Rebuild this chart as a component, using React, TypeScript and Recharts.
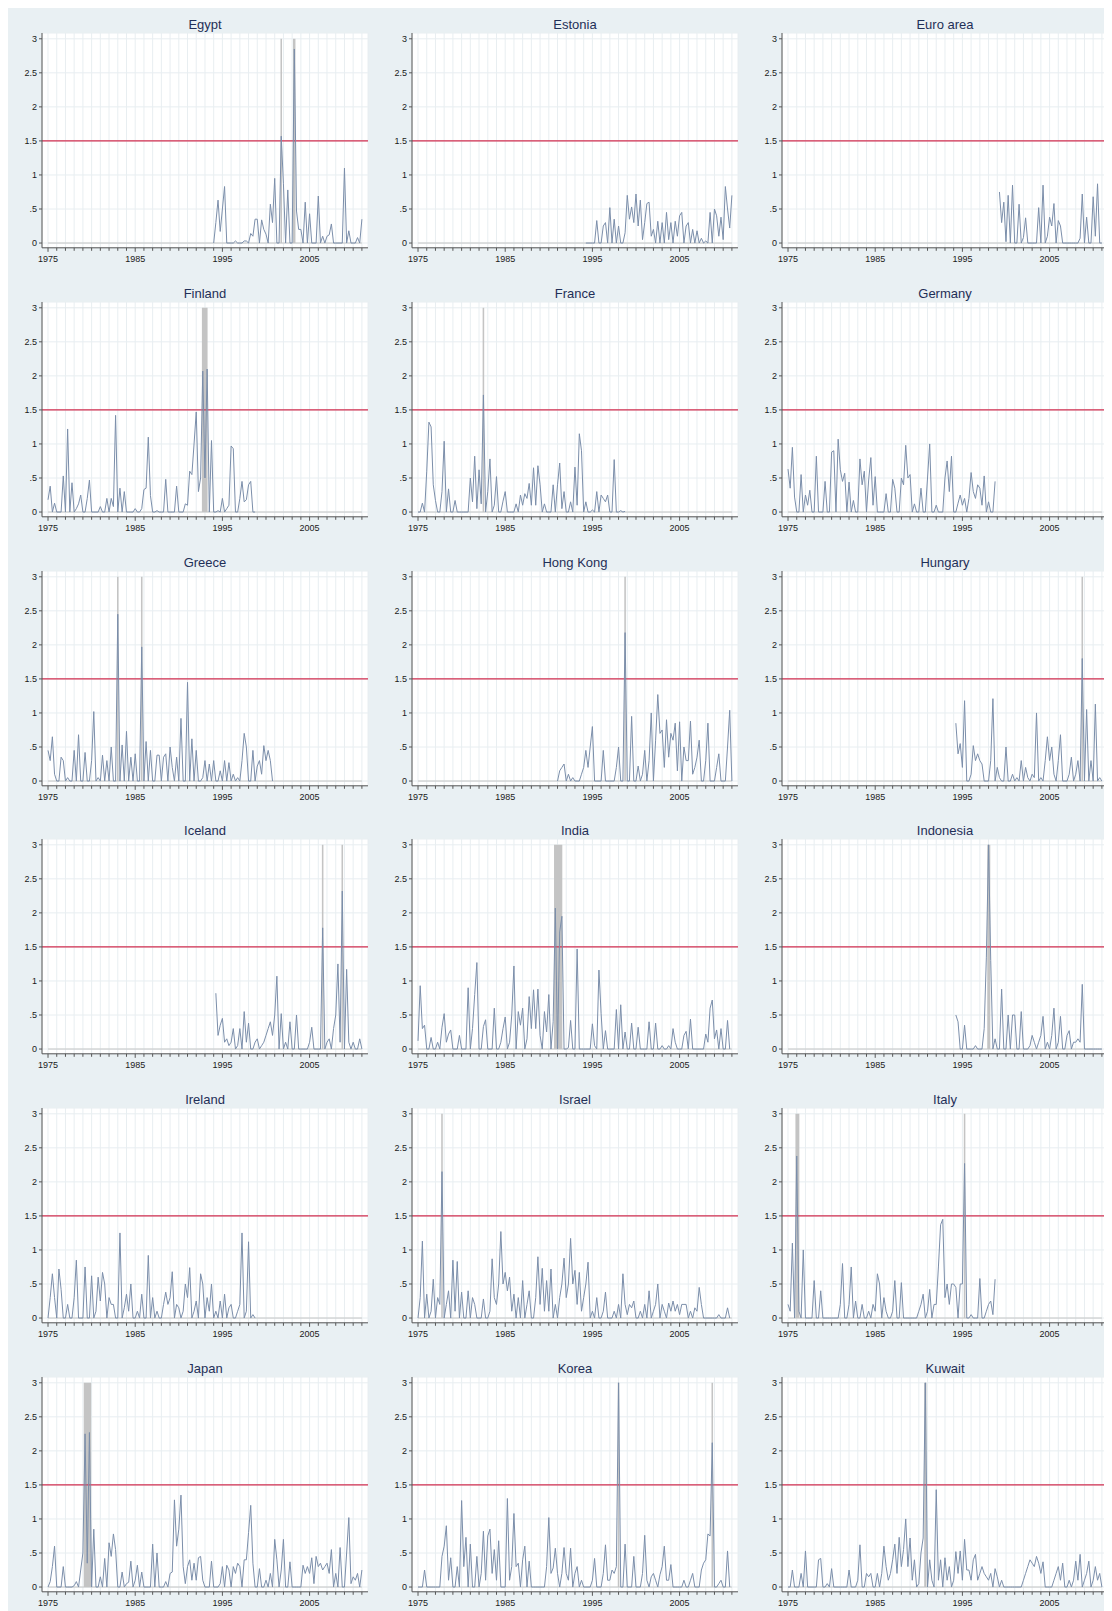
import React from 'react';
import {
  ComposedChart,
  Line,
  XAxis,
  YAxis,
  CartesianGrid,
  ReferenceLine,
  ReferenceArea,
} from 'recharts';

// quarterly index values, each series starts at its own year
const egyptStart = 1994;
const egypt = [0, .3, .63, .17, .5, .83, 0, 0, 0, 0, .03, 0, 0, 0, .03, .03, 0, .14, .1, .35, .35, 0, .34, .2, .13, 0, .57, .3, .95, 0, 0, 1.57, .87, 0, .78, 0, 0, 2.85, .47, .2, .2, 0, .6, 0, .43, 0, 0, 0, .69, 0, .1, 0, .1, .12, .28, 0, 0, 0, 0, 0, 1.1, 0, .18, 0, 0, 0, .08, 0, .35];
const egyptCrises = [[2001.66, 2001.84], [2003.1, 2003.38]];

const estoniaStart = 1994.25;
const estonia = [0, 0, 0, 0, 0, .33, 0, 0, .25, .3, 0, .52, 0, .35, 0, .25, 0, 0, .15, .7, .35, .53, .3, .72, .25, .63, .05, .3, .58, .6, .1, .2, 0, .32, 0, .3, 0, .45, .05, .3, 0, .32, .1, .4, .45, 0, .25, .3, 0, .2, 0, .18, 0, .07, 0, .03, 0, .45, 0, .5, .4, .1, .38, .05, .83, .5, .22, .7];
const estoniaCrises: number[][] = [];

const euroStart = 1999.25;
const euro = [.75, .3, .6, .02, .7, 0, .85, 0, 0, .57, 0, .08, .37, 0, 0, 0, 0, 0, .52, 0, .85, 0, .1, .38, .25, .58, 0, .33, .25, 0, 0, 0, 0, 0, 0, 0, 0, .07, .72, 0, .38, 0, 0, .68, .1, .87, 0, 0];
const euroCrises: number[][] = [];

const finlandStart = 1975;
const finland = [.18, .38, 0, .13, 0, 0, 0, .53, 0, 1.22, 0, .43, 0, .05, .12, .25, 0, 0, .2, .47, 0, 0, 0, 0, .08, 0, 0, .2, 0, .2, .08, 1.42, 0, .35, 0, .3, 0, 0, 0, 0, .05, 0, 0, .05, .33, .35, 1.1, .24, 0, 0, .02, 0, 0, 0, .48, 0, 0, 0, 0, .38, 0, 0, 0, .12, .1, .6, .55, 1.0, 1.47, .3, .5, 2.07, .5, 2.1, 0, 1.05, 0, 0, .02, 0, .2, 0, .05, .1, .97, .93, 0, 0, .2, .45, .15, .18, .4, .45, 0, 0];
const finlandCrises = [[1992.65, 1993.3]];

const franceStart = 1975;
const france = [0, 0, .13, 0, .6, 1.32, 1.25, .4, .17, 0, 0, .3, 1.04, 0, .34, 0, 0, .17, 0, 0, 0, 0, 0, 0, .5, .15, .82, .05, .62, .12, 1.72, 0, .3, .78, 0, .1, .52, 0, 0, .16, .3, 0, 0, 0, 0, .12, 0, .25, .1, .27, .2, .42, .1, .65, .1, .68, .4, 0, .12, 0, 0, 0, .4, 0, .4, .72, .05, .3, 0, 0, .15, 0, .66, .1, 1.15, .9, 0, .15, 0, 0, .03, 0, .3, 0, .25, .2, .15, .25, 0, 0, .77, 0, 0, .02, 0, .01];
const franceCrises = [[1982.41, 1982.59]];

const germanyStart = 1975;
const germany = [.63, .35, .95, .22, 0, 0, .55, 0, .25, .1, .32, 0, 0, .82, 0, 0, 0, .45, 0, 0, .88, .9, 0, 1.07, .62, .45, .57, 0, .44, 0, .17, 0, 0, .78, .4, .6, 0, .47, .8, .1, .52, 0, 0, 0, 0, .27, 0, 0, .48, .35, 0, 0, .5, .4, .98, .5, .55, 0, .12, 0, 0, .35, 0, 0, .5, 1.0, 0, 0, .1, 0, 0, 0, .5, .75, .3, .82, 0, 0, .13, .25, .1, .2, 0, .2, .58, .3, .2, .4, .35, .1, .53, 0, .15, 0, 0, .45];
const germanyCrises: number[][] = [];

const greeceStart = 1975;
const greece = [.45, .3, .65, .1, 0, 0, .35, .3, 0, .05, 0, 0, .45, 0, .68, 0, 0, .42, 0, 0, .3, 1.02, 0, .05, 0, .38, 0, .3, 0, .5, 0, 0, 2.45, 0, .53, 0, .73, 0, .35, 0, .4, 0, 0, 1.97, 0, .58, 0, .45, 0, 0, .38, .38, 0, .35, .4, 0, .5, .2, 0, .35, 0, .92, 0, 0, 1.45, 0, .62, 0, .45, 0, 0, .05, .3, 0, .25, 0, .3, 0, 0, .15, 0, .3, 0, .27, 0, .1, 0, .05, 0, .3, .7, .5, 0, 0, .45, 0, .22, .3, .1, .52, .3, .45, .3, 0];
const greeceCrises = [[1982.91, 1983.09], [1985.66, 1985.84]];

const hongKongStart = 1991;
const hongKong = [0, .15, .2, .25, 0, .1, 0, .05, 0, 0, 0, .1, .2, .45, .2, .5, .8, 0, 0, 0, 0, .45, 0, 0, 0, 0, 0, .2, .5, 0, 0, 2.18, 0, 0, .95, 0, 0, .22, 0, .1, .45, 0, .3, 1.0, 0, .6, 1.27, .7, .75, .2, .9, .35, .7, .6, .85, .15, .87, 0, .5, .3, .3, .88, .1, .2, .35, .6, 0, 0, .3, .85, 0, 0, 0, .2, .4, 0, 0, 0, .5, 1.04, 0];
const hongKongCrises = [[1998.66, 1998.84]];

const hungaryStart = 1994.25;
const hungary = [.85, .4, .55, .2, 1.18, 0, 0, .1, .52, .3, .4, .3, .25, 0, 0, 0, .3, 1.21, 0, .2, .05, 0, 0, .5, 0, 0, .1, 0, .05, 0, .3, 0, .2, .05, 0, .1, .05, 1.0, 0, .05, 0, .3, .65, .3, .5, .1, 0, .3, .68, 0, 0, 0, .1, .35, 0, .1, .3, 0, 1.8, 0, 1.05, 0, .3, 0, 1.13, 0, .05, 0];
const hungaryCrises = [[2008.66, 2008.84]];

const icelandStart = 1994.25;
const iceland = [.82, .2, .35, .45, .1, .15, .05, .1, .3, 0, .05, .3, 0, .55, .1, .38, 0, 0, .1, .15, 0, .05, .1, .2, .3, .4, .2, .5, 1.07, 0, .52, 0, .1, 0, .4, 0, 0, .5, 0, 0, 0, 0, 0, .1, .32, 0, 0, 0, 0, 1.78, 0, .1, .15, 0, .3, .5, 1.25, .1, 2.32, 0, 1.17, .1, 0, .1, 0, 0, .15, 0];
const icelandCrises = [[2006.41, 2006.59], [2008.66, 2008.84]];

const indiaStart = 1975;
const india = [.12, .93, .3, .35, 0, 0, .17, 0, 0, .1, 0, .32, .52, .1, .22, .28, 0, 0, 0, .2, 0, 0, 0, .9, 0, .3, .8, 1.27, 0, 0, .33, .43, 0, 0, 0, .6, 0, 0, .1, .3, .47, 0, .1, .5, 1.22, 0, .55, .35, .6, 0, .15, .77, .3, .87, .3, .88, .2, 0, .55, .25, .8, 0, .4, 2.07, 0, 1.72, 1.95, 0, 0, .02, .42, 0, 0, 1.47, 0, 0, 0, 0, 0, 0, .37, .05, 0, 1.16, .52, 0, .27, 0, 0, 0, 0, .58, 0, .65, 0, .25, 0, 0, .38, 0, 0, .32, 0, 0, 0, 0, .4, 0, 0, .38, 0, 0, .05, 0, 0, .05, 0, .3, .1, 0, 0, 0, .2, .26, 0, .44, 0, 0, 0, 0, 0, 0, .22, .1, .6, .72, .15, .28, 0, .3, 0, 0, .42, 0];
const indiaCrises = [[1990.6, 1991.55]];

const indonesiaStart = 1994.25;
const indonesia = [.5, .4, 0, 0, .35, 0, 0, 0, 0, .05, 0, 0, 0, .3, 1.35, 3.0, 1.3, 0, .15, 0, 0, .88, 0, 0, .5, 0, .5, .5, 0, 0, .55, 0, 0, 0, .05, .2, .1, 0, .1, .2, .48, 0, .1, 0, .2, .6, 0, .1, .48, 0, 0, .2, .27, 0, .1, .1, .15, .1, .95, 0, 0, 0, 0, 0, 0, 0, 0, 0];
const indonesiaCrises = [[1997.85, 1998.2]];

const irelandStart = 1975;
const ireland = [0, .3, .65, .3, 0, .72, .42, 0, 0, .2, 0, 0, .3, .85, 0, 0, 0, .75, 0, 0, .62, 0, .1, .6, .25, .67, .5, 0, .3, .2, .2, 0, 0, 1.25, 0, .15, .35, .1, .5, 0, 0, .1, 0, .35, 0, 0, .92, 0, .3, 0, .1, 0, 0, .2, .38, .2, .3, .68, 0, .2, .15, 0, .1, .5, .3, .74, 0, .1, .25, 0, .65, .5, 0, .3, .1, .5, 0, .1, 0, .25, 0, .35, 0, .15, .2, 0, 0, .1, .2, 1.25, 0, .1, 1.12, 0, .05, 0];
const irelandCrises: number[][] = [];

const israelStart = 1975;
const israel = [0, .3, 1.13, 0, .35, 0, .1, .57, 0, .3, .2, 2.15, 0, .2, .4, 0, .85, .1, .83, 0, .38, 0, 0, .4, 0, .3, .2, 0, 0, 0, .28, 0, 0, .1, .87, .3, .2, .5, 1.27, .5, .67, .4, .6, .1, .35, 0, .3, 0, .55, 0, .2, .4, 0, 0, .3, .9, .2, .73, .1, .55, .1, .72, 0, .2, 0, .3, .5, .88, .3, .5, 1.17, .5, .7, .2, .67, .1, .3, .5, .82, 0, .1, 0, .3, 0, 0, .1, .38, 0, 0, 0, .1, 0, .2, 0, .65, .2, .05, .2, .15, .25, 0, 0, .1, 0, .2, 0, .4, 0, .1, .2, .5, 0, .2, .1, 0, .22, .1, .25, .1, .2, .05, .2, .2, .2, 0, .1, 0, .15, .1, .45, .2, 0, 0, 0, 0, 0, 0, 0, .05, 0, 0, 0, .15, 0];
const israelCrises = [[1977.66, 1977.84]];

const italyStart = 1975;
const italy = [.2, .1, 1.1, 0, 2.38, .1, 0, 1.0, 0, 0, 0, 0, .55, 0, 0, .4, 0, 0, 0, 0, 0, 0, 0, 0, .2, .8, 0, 0, .2, .75, 0, .25, 0, 0, .2, 0, 0, .1, 0, .2, .1, .65, .5, 0, .3, .1, 0, 0, .1, .55, 0, 0, .52, 0, 0, 0, 0, 0, 0, 0, .1, .2, .35, 0, .1, .42, 0, .2, .2, .75, 1.37, 1.45, .3, .5, .2, .5, .5, .45, 0, .5, .5, 2.27, 0, 0, .05, 0, 0, 0, .58, 0, 0, .1, .2, .25, .05, .57];
const italyCrises = [[1975.85, 1976.3], [1995.16, 1995.34]];

const japanStart = 1975;
const japan = [0, .08, .3, .6, 0, 0, 0, .3, 0, 0, 0, 0, .02, .08, 0, .25, .5, 2.25, .35, 2.27, 0, .85, 0, 0, .15, 0, .42, 0, .65, .45, .78, .55, 0, 0, .22, 0, .05, .07, .38, 0, .1, .32, 0, .22, 0, 0, 0, 0, .63, 0, .5, 0, 0, 0, .08, 0, .2, .22, 1.28, .6, .85, 1.35, .3, .05, .3, .4, .1, .35, .1, .43, .45, .1, 0, 0, 0, .38, 0, 0, 0, .05, .3, 0, .32, .25, 0, .3, .2, .35, .3, 0, .4, .4, .8, 1.2, .35, 0, 0, .27, 0, 0, .1, 0, .2, 0, .7, .4, 0, .25, .7, 0, 0, .37, 0, 0, 0, 0, 0, .32, .2, .3, .2, .43, .05, .45, .3, .35, .25, .3, .35, .2, .55, 0, .2, 0, .58, 0, 0, .5, 1.02, .05, .15, .1, .2, 0, .25];
const japanCrises = [[1979.1, 1979.95]];

const koreaStart = 1975;
const korea = [0, 0, 0, .25, 0, 0, 0, 0, 0, 0, 0, .45, .6, .9, .1, .43, 0, 0, .3, 0, 1.27, .3, .73, 0, .63, 0, 0, .45, 0, .2, .82, .1, .75, .85, .2, .55, .1, .68, 0, 0, 0, 1.3, .1, .3, 1.08, .3, .35, 0, .4, .6, 0, .38, 0, 0, 0, 0, 0, 0, 0, .3, 1.02, .2, .28, .57, .2, 0, .2, .58, .2, .1, .57, 0, .2, .3, 0, .1, 0, 0, 0, 0, .1, .42, 0, 0, 0, .2, .62, .1, .1, .25, .2, .3, 3.0, 0, 0, .63, 0, 0, 0, .45, 0, 0, 0, .2, .76, .1, 0, .15, .2, .1, 0, .18, .3, .6, .1, .1, .33, 0, 0, 0, 0, 0, .1, 0, 0, .1, .2, 0, 0, 0, .25, .35, .4, .78, .75, 2.12, 0, 0, .05, .1, 0, 0, .53, 0];
const koreaCrises = [[1997.91, 1998.09], [2008.66, 2008.84]];

const kuwaitStart = 1975;
const kuwait = [0, 0, .25, 0, 0, 0, .2, 0, .53, 0, 0, 0, 0, 0, .4, .42, 0, 0, .05, 0, .27, 0, 0, 0, 0, 0, 0, 0, .25, 0, 0, 0, .1, .62, 0, 0, .2, .15, .2, 0, 0, .2, 0, .2, .6, .3, .1, .2, .4, .63, .2, .73, .3, .55, 1.0, .3, .72, .1, .4, 0, .05, .5, .72, 3.0, 0, .4, .1, 0, 1.43, .1, .4, 0, .43, .1, .3, 0, .1, .52, .2, .53, .1, .7, .25, .25, .1, .4, .48, .1, .2, .3, .2, .15, .1, .2, 0, .27, .15, 0, .1, 0, 0, 0, 0, 0, 0, 0, 0, 0, .1, .2, .3, .4, .35, .3, .45, .35, .2, .37, 0, 0, 0, 0, .1, .2, .3, .1, .35, 0, 0, .1, 0, .1, .38, .1, .48, 0, .1, .2, .38, 0, .1, .3, .1, .2, 0];
const kuwaitCrises = [[1990.62, 1990.88]];

const panels = [
  { name: 'Egypt', start: egyptStart, values: egypt, crises: egyptCrises },
  { name: 'Estonia', start: estoniaStart, values: estonia, crises: estoniaCrises },
  { name: 'Euro area', start: euroStart, values: euro, crises: euroCrises },
  { name: 'Finland', start: finlandStart, values: finland, crises: finlandCrises },
  { name: 'France', start: franceStart, values: france, crises: franceCrises },
  { name: 'Germany', start: germanyStart, values: germany, crises: germanyCrises },
  { name: 'Greece', start: greeceStart, values: greece, crises: greeceCrises },
  { name: 'Hong Kong', start: hongKongStart, values: hongKong, crises: hongKongCrises },
  { name: 'Hungary', start: hungaryStart, values: hungary, crises: hungaryCrises },
  { name: 'Iceland', start: icelandStart, values: iceland, crises: icelandCrises },
  { name: 'India', start: indiaStart, values: india, crises: indiaCrises },
  { name: 'Indonesia', start: indonesiaStart, values: indonesia, crises: indonesiaCrises },
  { name: 'Ireland', start: irelandStart, values: ireland, crises: irelandCrises },
  { name: 'Israel', start: israelStart, values: israel, crises: israelCrises },
  { name: 'Italy', start: italyStart, values: italy, crises: italyCrises },
  { name: 'Japan', start: japanStart, values: japan, crises: japanCrises },
  { name: 'Korea', start: koreaStart, values: korea, crises: koreaCrises },
  { name: 'Kuwait', start: kuwaitStart, values: kuwait, crises: kuwaitCrises },
];

const MAJOR_YEARS = [1975, 1985, 1995, 2005];
const YEAR_TICKS = Array.from({ length: 37 }, (_, i) => 1975 + i);
const Y_TICKS = [0, 0.5, 1, 1.5, 2, 2.5, 3];
const THRESHOLD = 1.5;

const PANEL_W = 370;
const PANEL_H = 268.8;

const fmtY = (v: number) => (v === 0 ? '0' : String(v).replace(/^0\./, '.'));

function YearTick(props: any) {
  const { x, y, payload } = props;
  const major = MAJOR_YEARS.includes(payload.value);
  return (
    <g>
      <line x1={x} x2={x} y1={y} y2={y + (major ? 4 : 3)} stroke="#555" strokeWidth={1} />
      {major && (
        <text x={x} y={y + 14.5} textAnchor="middle" fontSize={9} fill="#1a1a1a">
          {payload.value}
        </text>
      )}
    </g>
  );
}

function Panel({ name, start, values, crises }: { name: string; start: number; values: number[]; crises: number[][] }) {
  const data = values.map((v, i) => ({ x: start + i * 0.25, v }));
  return (
    <div style={{ position: 'relative', width: PANEL_W, height: PANEL_H }}>
      <div
        style={{
          position: 'absolute',
          left: 34,
          width: 326,
          top: 9,
          lineHeight: '16px',
          textAlign: 'center',
          fontSize: 13,
          color: '#1f2f57',
        }}
      >
        {name}
      </div>
      <ComposedChart width={PANEL_W} height={PANEL_H} data={data} margin={{ top: 25, right: 10, bottom: 9, left: 0 }}>
        <CartesianGrid fill="#fff" stroke="#e8eef1" />
        <XAxis
          dataKey="x"
          type="number"
          domain={[1974.31, 2011.7]}
          allowDataOverflow
          ticks={YEAR_TICKS}
          interval={0}
          tick={<YearTick />}
          tickLine={false}
          tickSize={0}
          tickMargin={0}
          axisLine={{ stroke: '#555' }}
          height={20}
        />
        <YAxis
          type="number"
          domain={[-0.07, 3.085]}
          allowDataOverflow
          ticks={Y_TICKS}
          interval={0}
          width={34}
          tickSize={3}
          tickMargin={2}
          tickFormatter={fmtY}
          tick={{ fontSize: 9, fill: '#1a1a1a' }}
          tickLine={{ stroke: '#555' }}
          axisLine={{ stroke: '#555' }}
        />
        {crises.map(([a, b], i) => (
          <ReferenceArea key={i} x1={a} x2={b} y1={0} y2={3} fill="#c4c4c4" fillOpacity={1} stroke="none" />
        ))}
        <ReferenceLine
          segment={[
            { x: 1975, y: 0 },
            { x: 2011, y: 0 },
          ]}
          stroke="#c6c6c6"
          strokeWidth={1}
        />
        <ReferenceLine y={THRESHOLD} stroke="#d22e50" strokeWidth={1.4} />
        <Line dataKey="v" type="linear" dot={false} stroke="#7a8eaa" strokeWidth={1} isAnimationActive={false} />
      </ComposedChart>
    </div>
  );
}

export default function App() {
  return (
    <div
      style={{
        position: 'relative',
        width: 1104,
        height: 1603,
        background: '#e9f0f3',
        fontFamily: '"Liberation Sans", Arial, Helvetica, sans-serif',
      }}
    >
      <style>{'body{overflow:hidden}'}</style>
      {panels.map((p, i) => (
        <div
          key={p.name}
          style={{ position: 'absolute', left: (i % 3) * PANEL_W, top: Math.floor(i / 3) * PANEL_H }}
        >
          <Panel {...p} />
        </div>
      ))}
    </div>
  );
}
